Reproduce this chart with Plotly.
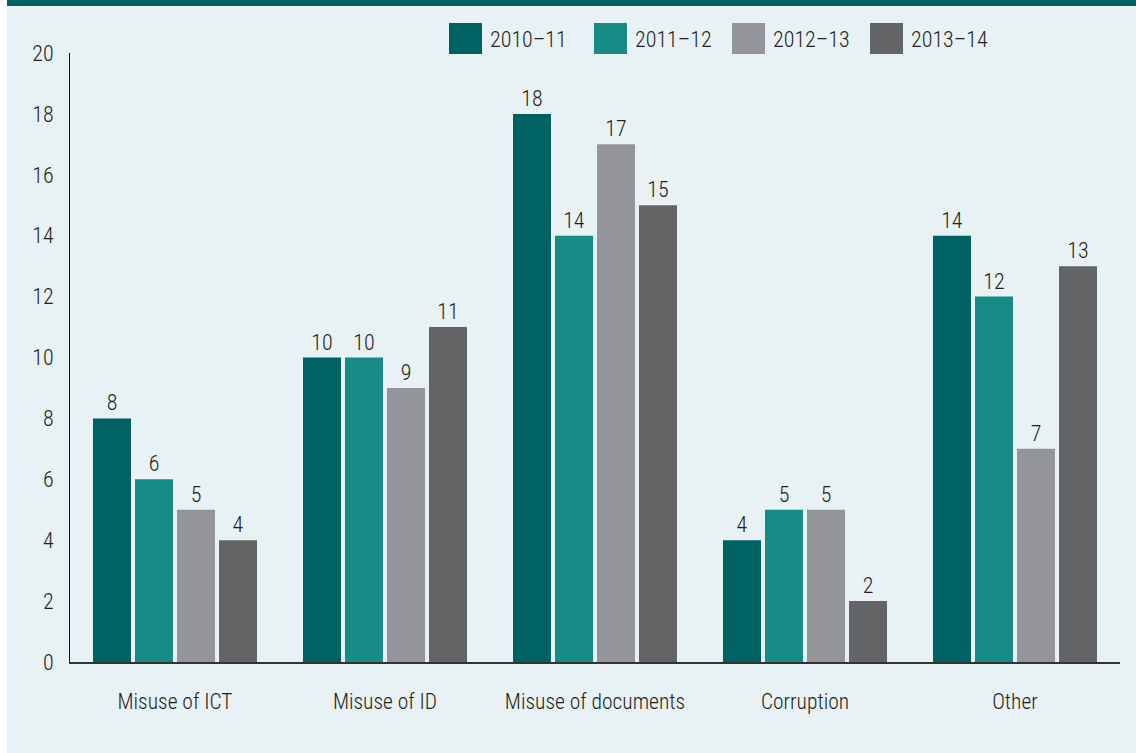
import plotly.graph_objects as go

categories = ["Misuse of ICT", "Misuse of ID", "Misuse of documents", "Corruption", "Other"]
years = ["2010\u201311", "2011\u201312", "2012\u201313", "2013\u201314"]
values_2010_11 = [8, 10, 18, 4, 14]
values_2011_12 = [6, 10, 14, 5, 12]
values_2012_13 = [5, 9, 17, 5, 7]
values_2013_14 = [4, 11, 15, 2, 13]
y_ticks = [0, 2, 4, 6, 8, 10, 12, 14, 16, 18, 20]

series = [values_2010_11, values_2011_12, values_2012_13, values_2013_14]
colors = ["#006163", "#178C87", "#949598", "#636466"]

FONT = "Roboto Condensed, Roboto, sans-serif"
TEXT = "#231F20"
PANEL = "#E8F1F3"

W, H = 1136, 753
L, R, T, B = 70, 16, 53, 91
pw, ph = W - L - R, H - T - B


def px_x(x):
    return (x - L) / pw


def px_y(y):
    return (H - B - y) / ph


def font(size):
    return dict(family=FONT, size=size, color=TEXT, weight=300)


fig = go.Figure()
for name, vals, col in zip(years, series, colors):
    fig.add_trace(go.Bar(
        x=categories, y=vals, name=name,
        marker=dict(color=col, line=dict(width=0)),
        text=vals, textposition="outside",
        textfont=font(22),
        cliponaxis=False, showlegend=False,
    ))

shapes = [
    # top band and left white strip
    dict(type="rect", xref="paper", yref="paper", x0=px_x(7), x1=px_x(W), y0=px_y(6), y1=px_y(0),
         fillcolor="#00615F", line=dict(width=0), layer="below"),
    dict(type="rect", xref="paper", yref="paper", x0=px_x(0), x1=px_x(7), y0=px_y(H), y1=px_y(0),
         fillcolor="white", line=dict(width=0), layer="below"),
]
annotations = []
# legend: colour blocks with labels across the top
legend_x = [449, 594, 732, 870]
for x0, name, col in zip(legend_x, years, colors):
    shapes.append(dict(type="rect", xref="paper", yref="paper",
                       x0=px_x(x0), x1=px_x(x0 + 33), y0=px_y(54), y1=px_y(23),
                       fillcolor=col, line=dict(width=0)))
    annotations.append(dict(xref="paper", yref="paper", x=px_x(x0 + 39), y=px_y(39),
                            xanchor="left", yanchor="middle", showarrow=False, text=name,
                            font=font(22)))

fig.update_layout(
    width=W, height=H,
    margin=dict(l=L, r=R, t=T, b=B),
    paper_bgcolor=PANEL, plot_bgcolor=PANEL,
    barmode="group", bargap=0.2, bargroupgap=0.095,
    font=font(22),
    shapes=shapes, annotations=annotations,
    showlegend=False,
)
fig.update_xaxes(
    showgrid=False, showline=True, linecolor="#333333", linewidth=1.5,
    ticks="", ticklabelstandoff=19, tickfont=font(21.5),
)
fig.update_yaxes(
    range=[0, 20], tickvals=y_ticks, showgrid=False, zeroline=False,
    showline=True, linecolor="#111111", linewidth=1,
    ticks="", ticklabelstandoff=11, tickfont=font(22),
)

fig.write_html("out.html", config={"responsive": False, "displayModeBar": False},
               post_script="document.body.style.margin='0';")
